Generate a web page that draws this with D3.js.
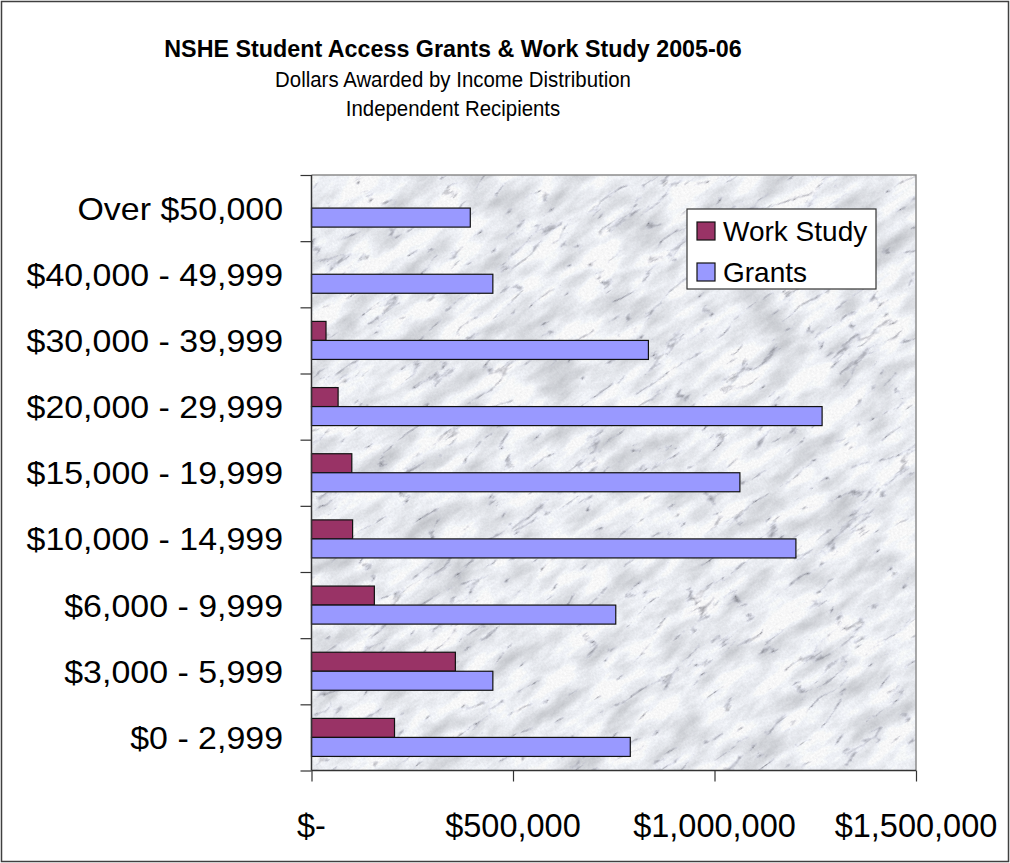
<!DOCTYPE html>
<html>
<head>
<meta charset="utf-8">
<script src="https://cdn.jsdelivr.net/npm/d3@7/dist/d3.min.js"></script>
<style>
  html, body { margin: 0; padding: 0; background: #fff; }
  svg { display: block; font-family: "Liberation Sans", Arial, sans-serif; }
</style>
</head>
<body>
<svg id="chart" width="1010" height="863"></svg>
<script>
// Income brackets, bottom to top
const categories = [
  "$0 - 2,999",
  "$3,000 - 5,999",
  "$6,000 - 9,999",
  "$10,000 - 14,999",
  "$15,000 - 19,999",
  "$20,000 - 29,999",
  "$30,000 - 39,999",
  "$40,000 - 49,999",
  "Over $50,000"
];
const seriesNames = ["Work Study", "Grants"];
const workStudy = [206000, 357000, 156000, 102000, 100000, 66000, 36000, 0, 0];
const grants = [791000, 450000, 755000, 1202000, 1063000, 1267000, 836000, 450000, 394000];
const xTicks = [0, 500000, 1000000, 1500000];
const xTickLabels = ["$-", "$500,000", "$1,000,000", "$1,500,000"];
const colors = ["#993366", "#9999ff"];

const svg = d3.select("#chart");
const W = 1010, H = 863;
const plot = { left: 311.5, right: 916, top: 175, bottom: 770.5 };

// Outer chart border
svg.append("rect")
  .attr("x", 1.5).attr("y", 1.5)
  .attr("width", W - 3).attr("height", H - 3)
  .attr("fill", "#fff").attr("stroke", "#404040").attr("stroke-width", 1.5);

// Titles
const titleX = 453;
svg.append("text").attr("x", titleX).attr("y", 57)
  .attr("text-anchor", "middle").attr("font-weight", "bold")
  .attr("font-size", 23.3).text("NSHE Student Access Grants & Work Study 2005-06");
svg.append("text").attr("transform", `translate(${titleX},87) scale(0.95,1)`)
  .attr("text-anchor", "middle").attr("font-size", 21.5)
  .text("Dollars Awarded by Income Distribution");
svg.append("text").attr("transform", `translate(${titleX},116) scale(0.95,1)`)
  .attr("text-anchor", "middle").attr("font-size", 21.5)
  .text("Independent Recipients");

// Scales
const x = d3.scaleLinear().domain([0, 1500000]).range([plot.left, plot.right]);
const y = d3.scaleBand().domain(categories.slice().reverse())
  .range([plot.top, plot.bottom]).padding(0);
const ySub = d3.scaleBand().domain(seriesNames)
  .range([0, y.bandwidth()]).paddingInner(0).paddingOuter(0.74);

// Marble texture for the plot background
const defs = svg.append("defs");
const f = defs.append("filter").attr("id", "marble")
  .attr("x", 0).attr("y", 0).attr("width", 1).attr("height", 1)
  .attr("filterUnits", "objectBoundingBox")
  .attr("color-interpolation-filters", "sRGB");
// soft cloudy grey base
f.append("feTurbulence").attr("type", "fractalNoise")
  .attr("baseFrequency", "0.02 0.05").attr("numOctaves", 4).attr("seed", 11)
  .attr("result", "cloud");
f.append("feColorMatrix").attr("in", "cloud").attr("type", "matrix")
  .attr("values", [
    0.4, 0, 0, 0, 0.74,
    0.4, 0, 0, 0, 0.75,
    0.4, 0, 0, 0, 0.77,
    0, 0, 0, 0, 1
  ].join(" ")).attr("result", "cloudC");
// thin dark veins
f.append("feTurbulence").attr("type", "turbulence")
  .attr("baseFrequency", "0.014 0.045").attr("numOctaves", 5).attr("seed", 4)
  .attr("result", "t");
f.append("feColorMatrix").attr("in", "t").attr("type", "matrix")
  .attr("values", [
    2.6, 0, 0, 0, 0.62,
    2.6, 0, 0, 0, 0.62,
    2.6, 0, 0, 0, 0.64,
    0, 0, 0, 0, 1
  ].join(" ")).attr("result", "veins");
f.append("feBlend").attr("in", "cloudC").attr("in2", "veins").attr("mode", "multiply")
  .attr("result", "stone");
// fine speckle
f.append("feTurbulence").attr("type", "fractalNoise")
  .attr("baseFrequency", "0.6").attr("numOctaves", 1).attr("seed", 3)
  .attr("result", "grain");
f.append("feColorMatrix").attr("in", "grain").attr("type", "matrix")
  .attr("values", [
    0, 0, 0, 0, 0.45,
    0, 0, 0, 0, 0.45,
    0, 0, 0, 0, 0.48,
    0.25, 0, 0, 0, -0.07
  ].join(" ")).attr("result", "grainA");
f.append("feComposite").attr("in", "grainA").attr("in2", "stone").attr("operator", "over");

defs.append("clipPath").attr("id", "plotClip")
  .append("rect").attr("x", plot.left).attr("y", plot.top)
  .attr("width", plot.right - plot.left).attr("height", plot.bottom - plot.top);

const cx = (plot.left + plot.right) / 2, cy = (plot.top + plot.bottom) / 2;
svg.append("g").attr("clip-path", "url(#plotClip)")
  .append("rect")
  .attr("x", cx - 550).attr("y", cy - 550).attr("width", 1100).attr("height", 1100)
  .attr("transform", `rotate(-35 ${cx} ${cy})`)
  .attr("fill", "#eeeff1")
  .attr("filter", "url(#marble)");

// Plot frame (top/right in gray)
svg.append("path")
  .attr("d", `M${plot.left},${plot.top}H${plot.right}V${plot.bottom}`)
  .attr("fill", "none").attr("stroke", "#8c8c8c").attr("stroke-width", 1.5);

// Bars
const rows = categories.map((c, i) => ({ cat: c, values: [workStudy[i], grants[i]] }));
const groups = svg.append("g").selectAll("g").data(rows).join("g")
  .attr("transform", d => `translate(0,${y(d.cat)})`);
groups.selectAll("rect")
  .data(d => d.values.map((v, j) => ({ v, s: seriesNames[j], j })).filter(e => e.v > 0))
  .join("rect")
  .attr("x", x(0))
  .attr("y", d => ySub(d.s))
  .attr("width", d => x(d.v) - x(0))
  .attr("height", ySub.bandwidth())
  .attr("fill", d => colors[d.j])
  .attr("stroke", "#111").attr("stroke-width", 1.2);

// Category axis
const yAxis = d3.axisLeft(d3.scaleLinear().domain([0, categories.length]).range([plot.bottom, plot.top]))
  .tickValues(d3.range(0, categories.length + 1)).tickSize(11).tickFormat("");
const gy = svg.append("g").attr("transform", `translate(${plot.left},0)`).call(yAxis);
gy.select(".domain").attr("stroke", "#333").attr("stroke-width", 1.5).attr("d", `M0,${plot.top}V${plot.bottom}`);
gy.selectAll(".tick line").attr("stroke", "#333").attr("stroke-width", 1.2);

svg.append("g").selectAll("text").data(categories).join("text")
  .attr("transform", d => `translate(283,${y(d) + y.bandwidth() / 2 + 11.5}) scale(1.06,1)`)
  .attr("text-anchor", "end")
  .attr("font-size", 32)
  .attr("fill", "#000")
  .text(d => d);

// Value axis
const xAxis = d3.axisBottom(x).tickValues(xTicks).tickSize(11).tickFormat("");
const gx = svg.append("g").attr("transform", `translate(0,${plot.bottom})`).call(xAxis);
gx.select(".domain").attr("stroke", "#333").attr("stroke-width", 1.5).attr("d", `M${plot.left},0H${plot.right}`);
gx.selectAll(".tick line").attr("stroke", "#333").attr("stroke-width", 1.2);

svg.append("g").selectAll("text").data(xTicks).join("text")
  .attr("x", d => x(d))
  .attr("y", 837)
  .attr("text-anchor", "middle")
  .attr("font-size", 32.5)
  .text((d, i) => xTickLabels[i]);

// Legend
const lg = svg.append("g").attr("transform", "translate(687,209)");
lg.append("rect").attr("width", 189).attr("height", 80)
  .attr("fill", "#fff").attr("stroke", "#333").attr("stroke-width", 1.2);
seriesNames.forEach((s, i) => {
  const yy = 13 + i * 41;
  lg.append("rect").attr("x", 10).attr("y", yy).attr("width", 18).attr("height", 18)
    .attr("fill", colors[i]).attr("stroke", "#111").attr("stroke-width", 1.2);
  lg.append("text").attr("x", 36).attr("y", yy + 19)
    .attr("font-size", 28).text(s);
});
</script>
</body>
</html>
